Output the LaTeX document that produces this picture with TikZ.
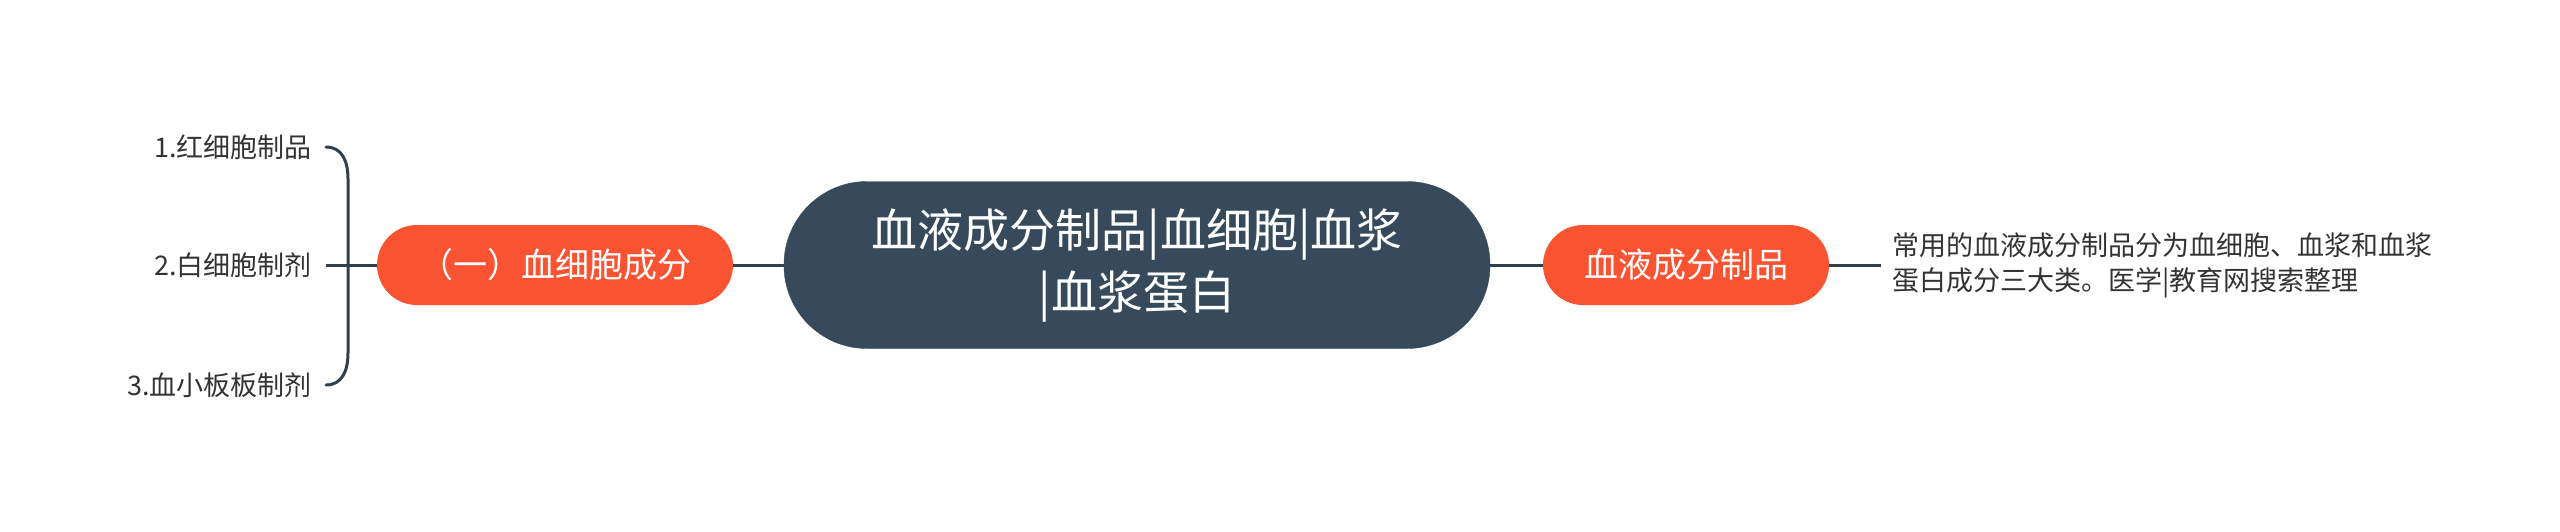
\documentclass[tikz,border=0pt]{standalone}
\usepackage{fontspec}
\setmainfont{Noto Sans CJK SC}
\definecolor{hub}{HTML}{364A5C}
\definecolor{branch}{HTML}{FA5331}
\definecolor{ink}{HTML}{333333}
\definecolor{wire}{HTML}{2F3F4E}
\begin{document}
\begin{tikzpicture}[x=1pt,y=-1pt,
  hubnode/.style={fill=hub,draw=hub,rounded corners=83pt,minimum width=706pt,minimum height=167pt,
     text=white,align=center,font=\fontsize{46}{62}\selectfont,inner sep=0pt},
  branchnode/.style={fill=branch,rounded corners=40pt,minimum height=80pt,text=white,
     font=\fontsize{34}{38}\selectfont,inner sep=0pt},
  leafnode/.style={text=ink,font=\fontsize{27}{30}\selectfont,inner xsep=14pt,inner ysep=0pt},
  descnode/.style={text=ink,align=left,font=\fontsize{27}{35}\selectfont,inner xsep=11pt,inner ysep=0pt},
  wireline/.style={draw=wire,line width=3pt}
]
\useasboundingbox (0,0) rectangle (2560,531);
\node[hubnode] (hub) at (1137,265) {血液成分制品|血细胞|血浆\\|血浆蛋白};
\node[branchnode,minimum width=356pt] (left) at (555,265) {（一）血细胞成分};
\node[branchnode,minimum width=286pt] (right) at (1686,265) {血液成分制品};
\node[descnode,anchor=west] (desc) at (1881,265) {常用的血液成分制品分为血细胞、血浆和血浆\\蛋白成分三大类。医学|教育网搜索整理};
\node[leafnode,anchor=east] (i1) at (326,147) {1.红细胞制品};
\node[leafnode,anchor=east] (i2) at (326,265) {2.白细胞制剂};
\node[leafnode,anchor=east] (i3) at (326,385) {3.血小板板制剂};
\draw[wireline] (hub.west) -- (left.east);
\draw[wireline] (hub.east) -- (right.west);
\draw[wireline] (right.east) -- (desc.west);
\draw[wireline] (i2.east) -- (left.west);
\draw[wireline,line cap=round] (i1.east) .. controls ++(16,0) and ++(0,-18) .. ++(22,32)
   -- ++(0,174) .. controls ++(0,18) and ++(16,0) .. (i3.east);
\end{tikzpicture}
\end{document}
